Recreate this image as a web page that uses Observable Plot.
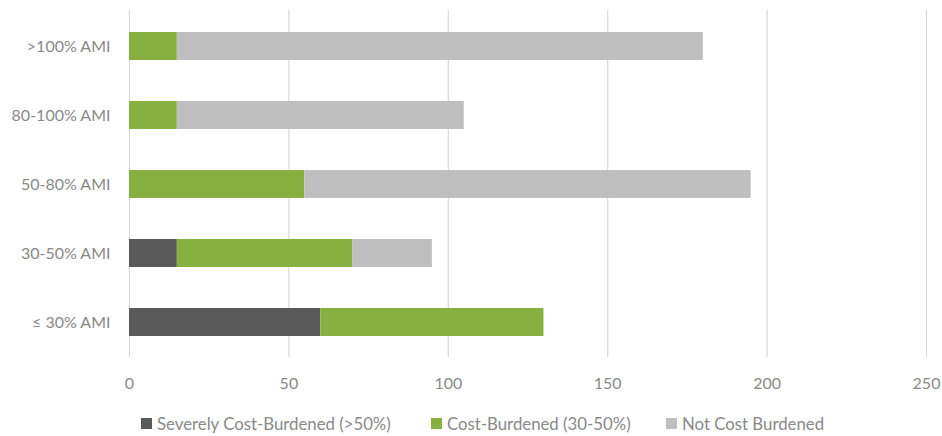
<!DOCTYPE html>
<html>
<head>
<meta charset="utf-8">
<script src="https://cdn.jsdelivr.net/npm/d3@7"></script>
<script src="https://cdn.jsdelivr.net/npm/@observablehq/plot@0.6"></script>
<style>
  html, body { margin: 0; padding: 0; background: #fff; }
  body { width: 942px; height: 436px; overflow: hidden; font-family: Lato, "Open Sans", sans-serif; }
  #legend { display: flex; gap: 0; height: 38px; align-items: center; font-size: 16.8px; color: #898989; padding-left: 141px; }
  .item { display: flex; align-items: center; }
  .sw { width: 11px; height: 11px; margin-right: 5px; }
</style>
</head>
<body>
<div id="chart"></div>
<div id="legend"></div>
<script>
const categories = [">100% AMI", "80-100% AMI", "50-80% AMI", "30-50% AMI", "≤ 30% AMI"];
const seriesNames = ["Severely Cost-Burdened (>50%)", "Cost-Burdened (30-50%)", "Not Cost Burdened"];
const severe = [0, 0, 0, 15, 60];
const burdened = [15, 15, 55, 55, 70];
const notBurdened = [165, 90, 140, 25, 0];
const colors = ["#595959", "#86b03f", "#bfbfbf"];
const xTicks = [0, 50, 100, 150, 200, 250];

const seriesValues = [severe, burdened, notBurdened];
const rows = [];
categories.forEach((c, i) => {
  seriesNames.forEach((s, j) => rows.push({category: c, series: s, value: seriesValues[j][i]}));
});

const chart = Plot.plot({
  width: 942,
  height: 404,
  marginLeft: 129,
  marginRight: 16,
  marginTop: 10,
  marginBottom: 47,
  style: {fontFamily: "Lato, 'Open Sans', sans-serif", fontSize: "16px", color: "#898989", background: "#fff"},
  x: {domain: [0, 250], ticks: xTicks, label: null, tickSize: 0, tickPadding: 20},
  y: {domain: categories, label: null, paddingInner: 0.6, paddingOuter: 0.3, tickSize: 0, tickPadding: 19},
  color: {domain: seriesNames, range: colors},
  marks: [
    Plot.gridX(xTicks, {stroke: "#d9d9d9", strokeOpacity: 1, strokeWidth: 1.2}),
    Plot.barX(rows, Plot.stackX({x: "value", y: "category", fill: "series", order: seriesNames}))
  ]
});
document.getElementById("chart").appendChild(chart);

const legend = document.getElementById("legend");
const widths = [290, 235, 170];
seriesNames.forEach((s, j) => {
  const item = document.createElement("div");
  item.className = "item";
  item.style.width = widths[j] + "px";
  const sw = document.createElement("span");
  sw.className = "sw";
  sw.style.background = colors[j];
  const t = document.createElement("span");
  t.textContent = s;
  item.appendChild(sw);
  item.appendChild(t);
  legend.appendChild(item);
});
</script>
</body>
</html>
